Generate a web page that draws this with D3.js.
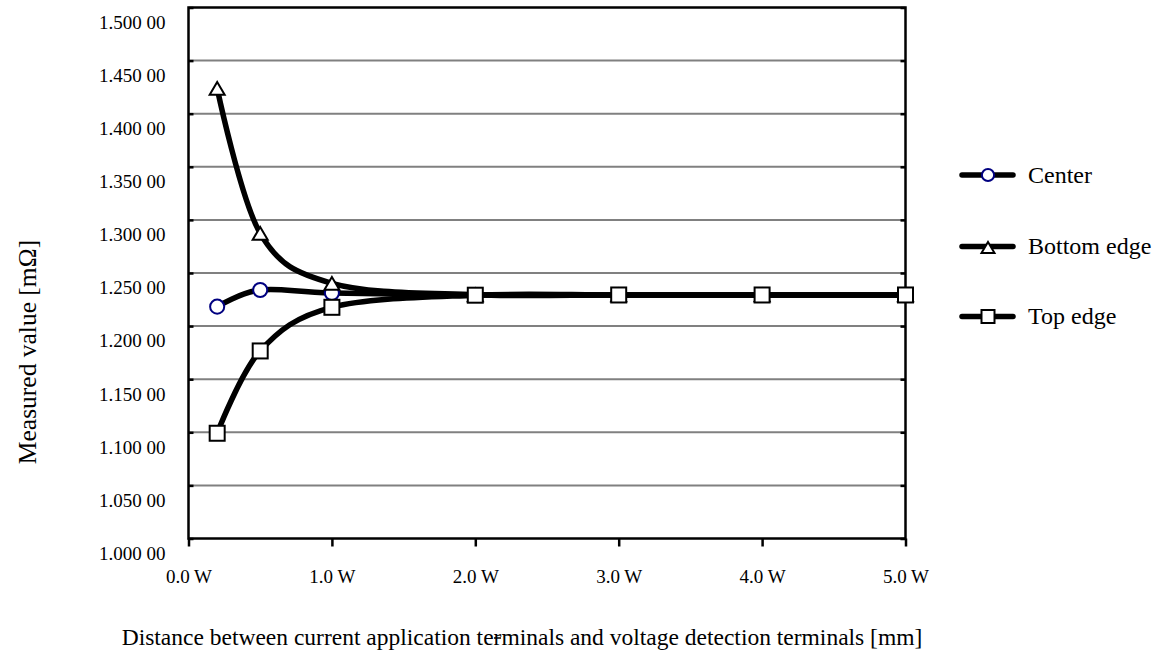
<!DOCTYPE html>
<html>
<head>
<meta charset="utf-8">
<script src="https://cdn.jsdelivr.net/npm/d3@7"></script>
<style>
  body { margin: 0; background: #fff; }
  text { font-family: "Liberation Serif", "Times New Roman", serif; fill: #000; }
</style>
</head>
<body>
<div id="chart"></div>
<script>
// distances (in W) where the resistance was measured
var distances = [0.2, 0.5, 1.0, 2.0, 3.0, 4.0, 5.0];

var centerValues = [1.2183, 1.2340, 1.2312, 1.2293, 1.2293, 1.2293, 1.2293];
var bottomValues = [1.4239, 1.2874, 1.2403, 1.2295, 1.2293, 1.2293, 1.2293];
var topValues    = [1.0991, 1.1766, 1.2177, 1.2291, 1.2293, 1.2293, 1.2293];

var seriesNames = ["Center", "Bottom edge", "Top edge"];

var xTicks = [0, 1, 2, 3, 4, 5];
var xTickLabels = ["0.0 W", "1.0 W", "2.0 W", "3.0 W", "4.0 W", "5.0 W"];
var yTicks = [1.00, 1.05, 1.10, 1.15, 1.20, 1.25, 1.30, 1.35, 1.40, 1.45, 1.50];

var width = 1168;
var height = 655;

var svg = d3.select("#chart")
    .append("svg")
    .attr("width", width)
    .attr("height", height);

// plot area box (note: "top" is taken by window.top, so prefix them)
var plotLeft = 188.5, plotRight = 905.5, plotTop = 7.5, plotBottom = 538.5;

var x = d3.scaleLinear().domain([0, 5]).range([plotLeft, plotRight]);
var y = d3.scaleLinear().domain([1.0, 1.5]).range([plotBottom, plotTop]);

//format like "1.250 00"
var fmtY = v => {
    var s = v.toFixed(5);
    return s.slice(0, 5) + " " + s.slice(5);
};

//gridlines (gray)
svg.append("g")
    .selectAll("line")
    .data(yTicks.slice(1, -1))
    .enter().append("line")
    .attr("x1", plotLeft)
    .attr("x2", plotRight)
    .attr("y1", d => y(d))
    .attr("y2", d => y(d))
    .attr("stroke", "#808080")
    .attr("stroke-width", 2);

//left axis with small inward ticks
var yAxis = d3.axisLeft(y)
    .tickValues(yTicks)
    .tickSize(-5)
    .tickFormat(fmtY);

var gy = svg.append("g")
    .attr("transform", "translate(" + plotLeft + ",0)")
    .call(yAxis);
gy.select(".domain").remove();
gy.selectAll("line").attr("stroke", "#000").attr("stroke-width", 2.5);
gy.selectAll("text")
    .attr("x", -23)
    .attr("dy", "1.1em")
    .style("font-size", "19px")
    .style("font-family", "Liberation Serif");

//right side ticks
var gy2 = svg.append("g")
    .attr("transform", "translate(" + plotRight + ",0)")
    .call(d3.axisRight(y).tickValues(yTicks).tickSize(-5).tickFormat(""));
gy2.select(".domain").remove();
gy2.selectAll("line").attr("stroke", "#000").attr("stroke-width", 2.5);

//bottom axis
var xAxis = d3.axisBottom(x)
    .tickValues(xTicks)
    .tickSize(8)
    .tickFormat((d, i) => xTickLabels[i]);

var gx = svg.append("g")
    .attr("transform", "translate(0," + plotBottom + ")")
    .call(xAxis);
gx.select(".domain").remove();
gx.selectAll("line").attr("stroke", "#000").attr("stroke-width", 2.5);
gx.selectAll("text")
    .attr("y", 44)
    .attr("dy", 0)
    .style("font-size", "19px")
    .style("font-family", "Liberation Serif");

//frame
svg.append("rect")
    .attr("x", plotLeft)
    .attr("y", plotTop)
    .attr("width", plotRight - plotLeft)
    .attr("height", plotBottom - plotTop)
    .attr("fill", "none")
    .attr("stroke", "#000")
    .attr("stroke-width", 2.5);

//lines and markers
var line = d3.line()
    .x(d => x(d[0]))
    .y(d => y(d[1]))
    .curve(d3.curveCardinal.tension(0));

var drawMarker = function(g, kind, cx, cy, s) {
    if (kind == "circle") {
        g.append("circle")
            .attr("cx", cx).attr("cy", cy).attr("r", s * 0.47)
            .attr("fill", "#fff").attr("stroke", "#000080").attr("stroke-width", 2);
    }
    else if (kind == "triangle") {
        var h = s * 0.85;
        g.append("path")
            .attr("d", "M" + cx + "," + (cy - h / 2) +
                       "L" + (cx + s / 2) + "," + (cy + h / 2) +
                       "L" + (cx - s / 2) + "," + (cy + h / 2) + "Z")
            .attr("fill", "#fff").attr("stroke", "#000").attr("stroke-width", 2);
    }
    else {
        g.append("rect")
            .attr("x", cx - s / 2).attr("y", cy - s / 2)
            .attr("width", s).attr("height", s)
            .attr("fill", "#fff").attr("stroke", "#000").attr("stroke-width", 2);
    }
};

var allSeries = [
    {name: seriesNames[0], values: centerValues, marker: "circle"},
    {name: seriesNames[1], values: bottomValues, marker: "triangle"},
    {name: seriesNames[2], values: topValues, marker: "square"}
];

allSeries.forEach(s => {
    var pts = distances.map((d, i) => [d, s.values[i]]);
    var g = svg.append("g");
    g.append("path")
        .attr("d", line(pts))
        .attr("fill", "none")
        .attr("stroke", "#000")
        .attr("stroke-width", 5.5)
        .attr("stroke-linejoin", "round");
    pts.forEach(p => drawMarker(g, s.marker, x(p[0]), y(p[1]), 15));
});

//legend
var legendY = [175, 246.5, 316.5];
allSeries.forEach((s, i) => {
    var g = svg.append("g");
    g.append("line")
        .attr("x1", 962).attr("x2", 1013)
        .attr("y1", legendY[i]).attr("y2", legendY[i])
        .attr("stroke", "#000").attr("stroke-width", 5.5)
        .attr("stroke-linecap", "round");
    drawMarker(g, s.marker, 988, legendY[i] + (s.marker == "triangle" ? 1 : 0), 13);
    g.append("text")
        .attr("x", 1028)
        .attr("y", legendY[i])
        .attr("dy", "0.33em")
        .style("font-size", "24px")
        .text(s.name);
});

//axis titles
svg.append("text")
    .attr("transform", "translate(36,352) rotate(-90)")
    .style("text-anchor", "middle")
    .style("font-size", "25.5px")
    .text("Measured value [mΩ]");

svg.append("text")
    .attr("x", 522)
    .attr("y", 645)
    .style("text-anchor", "middle")
    .style("font-size", "23.5px")
    .text("Distance between current application terminals and voltage detection terminals [mm]");

//little stray dash over the title, as in the original
svg.append("line")
    .attr("x1", 494).attr("x2", 501)
    .attr("y1", 638).attr("y2", 638)
    .attr("stroke", "#000").attr("stroke-width", 1.5);
</script>
</body>
</html>
